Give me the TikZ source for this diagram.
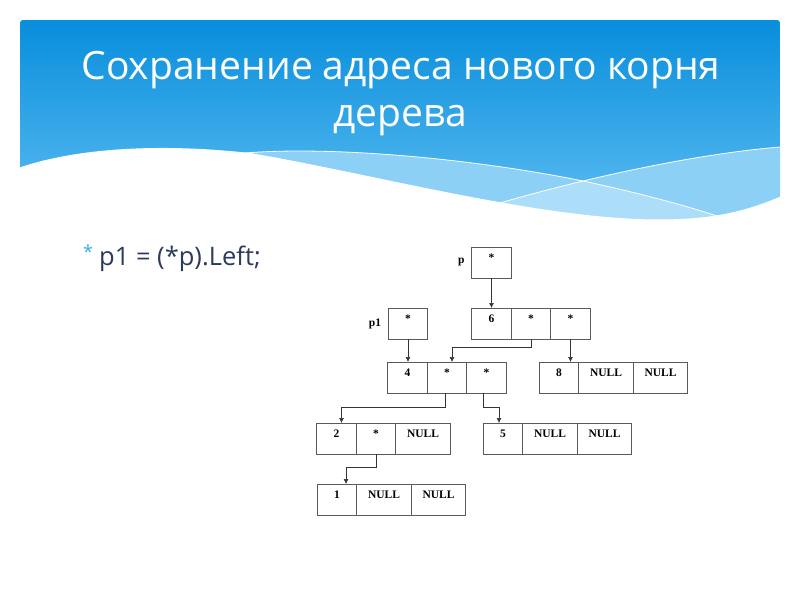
\documentclass[tikz,border=0pt]{standalone}
\usepackage{fontspec}
\setmainfont{Liberation Serif}
\newfontfamily\slidefont{Open Sans}
\usetikzlibrary{arrows.meta,positioning}
\definecolor{bannertop}{RGB}{8,142,220}
\definecolor{bannerbot}{RGB}{95,190,242}
\definecolor{waveband}{RGB}{140,208,246}
\definecolor{wavelight}{RGB}{172,222,249}
\definecolor{bodytext}{RGB}{44,58,92}
\definecolor{bulletblue}{RGB}{58,168,228}
\definecolor{boxline}{RGB}{90,90,90}

\begin{document}
\begin{tikzpicture}[x=1pt,y=-1pt,
  cell/.style={draw=boxline,line width=0.8pt,minimum width=39.5pt,minimum height=31pt,
    inner sep=0pt,outer sep=0pt,font=\bfseries\fontsize{11.5}{12}\selectfont,
    text height=7.5pt,text depth=10pt},
  nullcell/.style={cell,minimum width=54.5pt},
  lbl/.style={font=\bfseries\fontsize{11.5}{12}\selectfont,inner sep=1pt},
  ptr/.style={draw=black!80,line width=0.7pt,-{Latex[length=5pt,width=5pt]}},
  node distance=0pt]
\useasboundingbox[fill=white] (0,0) rectangle (800,600);

% banner with waves
\shade[top color=bannertop,bottom color=bannerbot,rounded corners=3pt] (20,20) rectangle (780,224);
\fill[waveband] (245,153) .. controls (330,146) and (470,158) .. (583,181)
  .. controls (650,165) and (720,152) .. (780,147) -- (780,224) -- (245,224) -- cycle;
\fill[wavelight] (493,205) .. controls (520,197) and (550,189) .. (583,181)
  .. controls (640,193) and (690,207) .. (717,216) -- (717,224) -- (493,224) -- cycle;
\fill[white] (18,168) .. controls (70,150) and (150,142) .. (250,153)
  .. controls (380,175) and (560,225) .. (680,219)
  .. controls (730,217) and (760,205) .. (782,196) -- (782,226) -- (18,226) -- cycle;
\draw[white,line width=0.8pt] (245,153) .. controls (330,146) and (470,158) .. (583,181)
  .. controls (640,193) and (690,207) .. (717,216);
\draw[white,line width=0.8pt] (493,205) .. controls (520,197) and (550,189) .. (583,181)
  .. controls (650,165) and (720,152) .. (780,147);

\node[font=\slidefont\fontsize{39}{44}\selectfont,text=white,anchor=base] (title) at (401,79) {Сохранение адреса нового корня};
\node[font=\slidefont\fontsize{39}{44}\selectfont,text=white,anchor=base] (titlesub) at (400,126) {дерева};

% bullet
\node[font=\slidefont\fontsize{18}{20}\selectfont,text=bulletblue] (star) at (88,252) {*};
\node[font=\slidefont\fontsize{25.5}{28}\selectfont,text=bodytext,anchor=base west,inner sep=0pt] (code) at (99,265) {p1 = (*p).Left;};

% tree
\node[cell] (pbox) at (491.5,262.5) {*};
\node[lbl,left=6pt of pbox] (plbl) {p};
\node[cell] (p1box) at (408,323.5) {*};
\node[lbl,left=6pt of p1box] (p1lbl) {p1};

\node[cell] (n6a) at (491.5,323.5) {6};
\node[cell,right=of n6a] (n6b) {*};
\node[cell,right=of n6b] (n6c) {*};

\node[cell] (n4a) at (407.5,377.5) {4};
\node[cell,right=of n4a] (n4b) {*};
\node[cell,right=of n4b] (n4c) {*};

\node[cell] (n8a) at (559,377.5) {8};
\node[nullcell,right=of n8a] (n8b) {NULL};
\node[nullcell,right=of n8b] (n8c) {NULL};

\node[cell] (n2a) at (336.5,438.5) {2};
\node[cell,right=of n2a] (n2b) {*};
\node[nullcell,right=of n2b] (n2c) {NULL};

\node[cell] (n5a) at (503,438.5) {5};
\node[nullcell,right=of n5a] (n5b) {NULL};
\node[nullcell,right=of n5b] (n5c) {NULL};

\node[cell] (n1a) at (337,499.5) {1};
\node[nullcell,right=of n1a] (n1b) {NULL};
\node[nullcell,right=of n1b] (n1c) {NULL};

% pointers
\draw[ptr] (pbox) -- (n6a);
\draw[ptr] (p1box.south) -- (p1box.south |- n4a.north);
\draw[ptr] (n6b.south) -- ++(0,8) -| ([xshift=5pt]n4b.north);
\draw[ptr] (n6c.south) -- (n6c.south |- n8a.north);
\draw[ptr] ([xshift=-2pt]n4b.south) -- ++(0,14) -| ([xshift=5pt]n2a.north);
\draw[ptr] ([xshift=-3pt]n4c.south) -- ++(0,14) -| ([xshift=-4pt]n5a.north);
\draw[ptr] (n2b.south) -- ++(0,13) -| ([xshift=9pt]n1a.north);
\end{tikzpicture}
\end{document}
